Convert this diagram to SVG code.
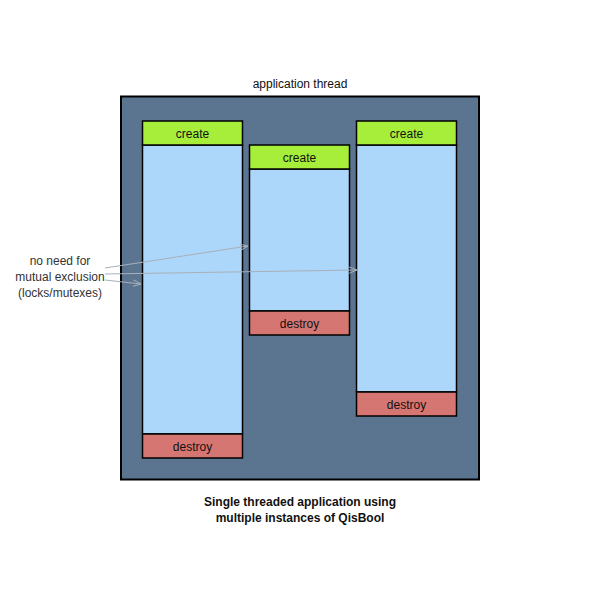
<svg xmlns="http://www.w3.org/2000/svg" width="600" height="600" viewBox="0 0 600 600">
<defs>
<style>
text{font-family:"Liberation Sans",Arial,sans-serif;font-size:12px;fill:#111}
.create{fill:#a6ee3a;stroke:#000;stroke-width:1.5}
.body{fill:#acd6fa;stroke:#000;stroke-width:1.5}
.destroy{fill:#d67672;stroke:#000;stroke-width:1.5}
.lbl{text-anchor:middle}
.note{fill:#333;text-anchor:middle}
.conn{stroke:#a8b0b8;stroke-width:1;fill:none;marker-end:url(#arr)}
.title{font-weight:bold;text-anchor:middle;font-size:12px}
</style>
<marker id="arr" viewBox="0 0 10 10" refX="10" refY="5" markerWidth="8" markerHeight="8" orient="auto" markerUnits="userSpaceOnUse">
<path d="M0,1 L10,5 L0,9" fill="none" stroke="#a8b0b8" stroke-width="1.2"/>
</marker>
</defs>
<rect x="0" y="0" width="600" height="600" fill="#fff"/>
<text x="300" y="88" class="lbl">application thread</text>
<g id="thread">
<rect x="121" y="96.5" width="358" height="383" fill="#5b7590" stroke="#000" stroke-width="2"/>
</g>
<g id="instance1">
<rect x="142.5" y="145" width="100" height="289" class="body"/>
<rect x="142.5" y="121" width="100" height="24" class="create"/>
<text x="192.5" y="137.5" class="lbl">create</text>
<rect x="142.5" y="434" width="100" height="24" class="destroy"/>
<text x="192.5" y="451" class="lbl">destroy</text>
</g>
<g id="instance2">
<rect x="249.5" y="169" width="100" height="142" class="body"/>
<rect x="249.5" y="145" width="100" height="24" class="create"/>
<text x="299.5" y="161.5" class="lbl">create</text>
<rect x="249.5" y="311" width="100" height="24" class="destroy"/>
<text x="299.5" y="328" class="lbl">destroy</text>
</g>
<g id="instance3">
<rect x="356.5" y="145" width="100" height="247" class="body"/>
<rect x="356.5" y="121" width="100" height="24" class="create"/>
<text x="406.5" y="137.5" class="lbl">create</text>
<rect x="356.5" y="392" width="100" height="24" class="destroy"/>
<text x="406.5" y="409" class="lbl">destroy</text>
</g>
<g id="note">
<text x="60" y="265" class="note">no need for</text>
<text x="60" y="281" class="note">mutual exclusion</text>
<text x="60" y="297" class="note">(locks/mutexes)</text>
</g>
<g id="connectors">
<line x1="105" y1="268" x2="248" y2="246" class="conn"/>
<line x1="105" y1="274" x2="357" y2="270" class="conn"/>
<line x1="105" y1="280" x2="141" y2="284" class="conn"/>
</g>
<text x="300" y="506" class="title">Single threaded application using</text>
<text x="300" y="522" class="title">multiple instances of QisBool</text>
</svg>
